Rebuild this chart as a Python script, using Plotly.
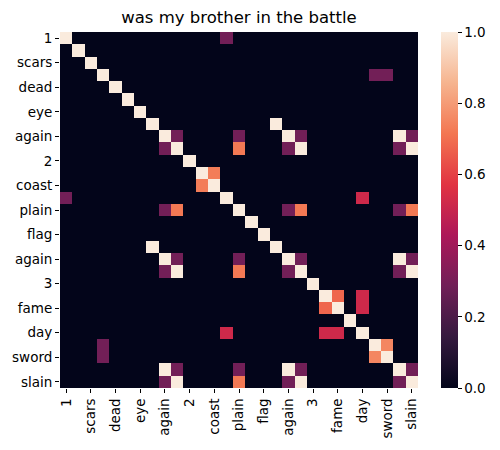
import numpy as np
import plotly.graph_objects as go

# words along both axes (only every other one is labelled)
words = ["1", "wounds", "scars", "bled", "dead", "light", "eye", "fell",
         "again", "slain", "2", "host", "coast", "way", "plain", "high",
         "flag", "fell", "again", "slain", "3", "name", "fame", "gone",
         "day", "word", "sword", "again", "slain"]

# off-diagonal similarities (i, j, value), matrix is symmetric
pair_i = [0, 3, 3, 7, 8, 8, 8, 8, 8, 8, 9, 9, 9, 9, 9, 11, 13,
          14, 14, 14, 14, 18, 18, 18, 19, 19, 21, 21, 22, 25, 27]
pair_j = [13, 25, 26, 17, 9, 14, 18, 19, 27, 28, 14, 18, 19, 27, 28, 12, 24,
          18, 19, 27, 28, 19, 27, 28, 27, 28, 22, 24, 24, 26, 28]
pair_v = [0.29, 0.29, 0.29, 1.0, 0.29, 0.29, 1.0, 0.29, 1.0, 0.29,
          0.72, 0.29, 1.0, 0.29, 1.0, 0.73, 0.52,
          0.29, 0.72, 0.29, 0.72, 0.29, 1.0, 0.29, 0.29, 1.0,
          0.68, 0.52, 0.52, 0.75, 0.29]

n = len(words)
sim = np.eye(n)
for i, j, v in zip(pair_i, pair_j, pair_v):
    sim[i, j] = v
    sim[j, i] = v

# seaborn "rocket"
rocket = [
    [0.0, "#03051a"],
    [0.143, "#35193e"],
    [0.286, "#701f57"],
    [0.429, "#ad1759"],
    [0.571, "#e13342"],
    [0.714, "#f37651"],
    [0.857, "#f6b48f"],
    [1.0, "#faebdd"],
]

fig = go.Figure()
fig.add_trace(go.Heatmap(
    z=sim,
    x=list(range(n)),
    y=list(range(n)),
    colorscale=rocket,
    zmin=0, zmax=1,
    customdata=[[f"{words[r]} / {words[c]}" for c in range(n)] for r in range(n)],
    hovertemplate="%{customdata}: %{z:.2f}<extra></extra>",
    colorbar=dict(
        x=1.064, xanchor="left", xref="paper", xpad=0, ypad=0,
        y=0.5, yanchor="middle", len=1.0, lenmode="fraction",
        thickness=17, outlinewidth=0,
        tickvals=[0, 0.2, 0.4, 0.6, 0.8, 1.0],
        ticktext=["0.0", "0.2", "0.4", "0.6", "0.8", "1.0"],
        ticks="outside", ticklen=4, tickcolor="black",
        tickfont=dict(size=13.5, color="black"),
    ),
))

tick_idx = list(range(0, n, 2))
fig.update_layout(
    width=500, height=450,
    margin=dict(l=60, r=82, t=32, b=62, autoexpand=False),
    font=dict(family="DejaVu Sans", size=13.5, color="black"),
    paper_bgcolor="white", plot_bgcolor="white",
    title=dict(text="was my brother in the battle", x=0.478, xanchor="center",
               y=0.962, yanchor="middle", xref="container", yref="container",
               font=dict(size=16.5, color="black")),
    xaxis=dict(range=[-0.5, n - 0.5], tickvals=tick_idx,
               ticktext=[words[k] for k in tick_idx], tickangle=-90,
               ticks="outside", ticklen=4, tickcolor="black",
               showgrid=False, zeroline=False, showline=False,
               automargin=False),
    yaxis=dict(range=[n - 0.5, -0.5], tickvals=tick_idx,
               ticktext=[words[k] for k in tick_idx],
               ticks="outside", ticklen=4, tickcolor="black",
               showgrid=False, zeroline=False, showline=False,
               automargin=False),
)

# drop the default page margin so the figure sits at the window corner
fig.write_html("out.html", config={"displayModeBar": False},
               post_script="document.body.style.margin='0';")
